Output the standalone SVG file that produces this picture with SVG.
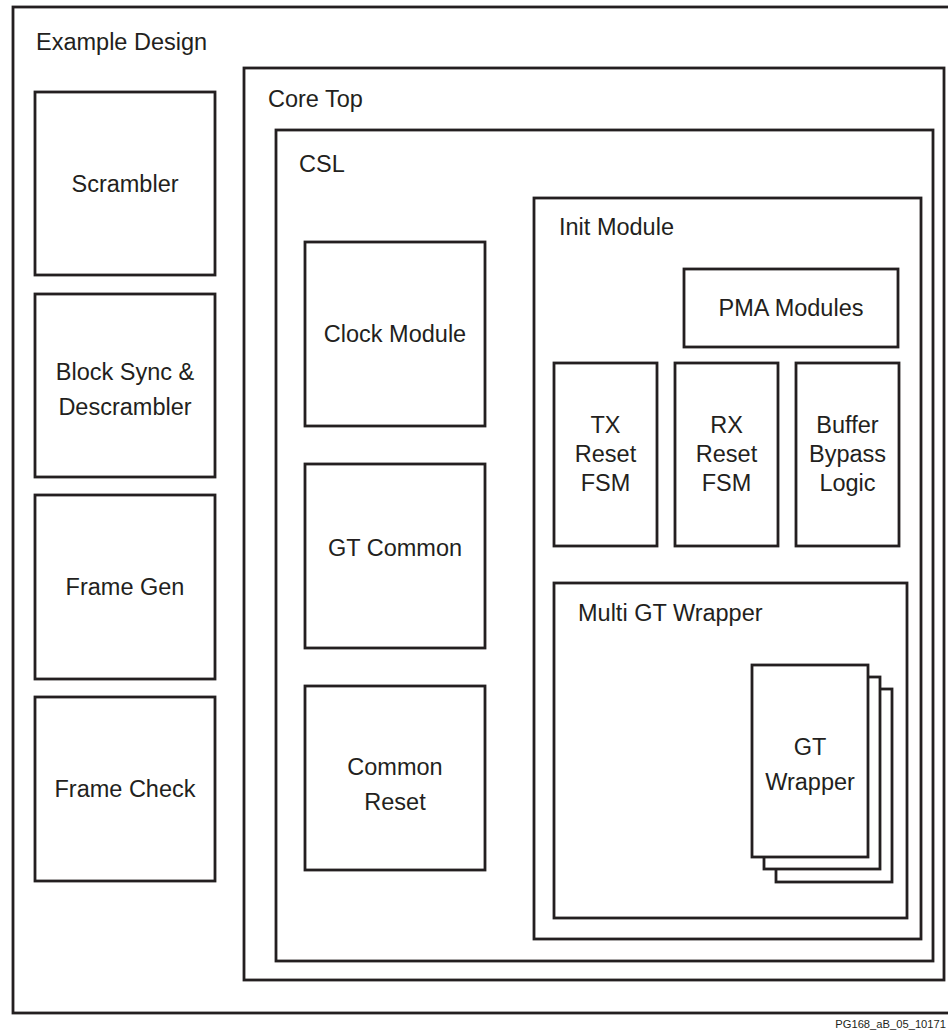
<svg xmlns="http://www.w3.org/2000/svg" width="948" height="1032" viewBox="0 0 948 1032">
<style>
rect{fill:#fff;stroke:#231f20;stroke-width:2.8}
text{font-family:"Liberation Sans",Arial,Helvetica,sans-serif;font-size:23.5px;fill:#231f20}
.c{text-anchor:middle}
.f{font-size:11.2px;text-anchor:end}
</style>
<rect x="0" y="0" width="948" height="1032" style="stroke:none"/>
<g id="example-design">
<rect x="13" y="7" width="945" height="1006"/>
<text x="36" y="50">Example Design</text>
</g>
<g id="scrambler"><rect x="35" y="92" width="180" height="183"/><text class="c" x="125" y="192">Scrambler</text></g>
<g id="block-sync"><rect x="35" y="294" width="180" height="183"/><text class="c" x="125" y="380">Block Sync &amp;</text><text class="c" x="125" y="415">Descrambler</text></g>
<g id="frame-gen"><rect x="35" y="495" width="180" height="184"/><text class="c" x="125" y="595">Frame Gen</text></g>
<g id="frame-check"><rect x="35" y="697" width="180" height="184"/><text class="c" x="125" y="797">Frame Check</text></g>
<g id="core-top"><rect x="244" y="68" width="700" height="912"/><text x="268" y="107">Core Top</text></g>
<g id="csl"><rect x="276" y="130" width="657" height="831"/><text x="299" y="172">CSL</text></g>
<g id="clock-module"><rect x="305" y="242" width="180" height="184"/><text class="c" x="395" y="342">Clock Module</text></g>
<g id="gt-common"><rect x="305" y="464" width="180" height="184"/><text class="c" x="395" y="556">GT Common</text></g>
<g id="common-reset"><rect x="305" y="686" width="180" height="184"/><text class="c" x="395" y="775">Common</text><text class="c" x="395" y="810">Reset</text></g>
<g id="init-module"><rect x="534" y="198" width="387" height="741"/><text x="559" y="235">Init Module</text></g>
<g id="pma-modules"><rect x="684" y="269" width="214" height="78"/><text class="c" x="791" y="316">PMA Modules</text></g>
<g id="tx-reset-fsm"><rect x="554" y="363" width="103" height="183"/><text class="c" x="605.5" y="433">TX</text><text class="c" x="605.5" y="462">Reset</text><text class="c" x="605.5" y="491">FSM</text></g>
<g id="rx-reset-fsm"><rect x="675" y="363" width="103" height="183"/><text class="c" x="726.5" y="433">RX</text><text class="c" x="726.5" y="462">Reset</text><text class="c" x="726.5" y="491">FSM</text></g>
<g id="buffer-bypass"><rect x="796" y="363" width="103" height="183"/><text class="c" x="847.5" y="433">Buffer</text><text class="c" x="847.5" y="462">Bypass</text><text class="c" x="847.5" y="491">Logic</text></g>
<g id="multi-gt-wrapper"><rect x="554" y="583" width="353" height="335"/><text x="578" y="621">Multi GT Wrapper</text></g>
<g id="gt-wrapper">
<rect x="776" y="689" width="116" height="193"/>
<rect x="764" y="677" width="116" height="192"/>
<rect x="752" y="665" width="116" height="192"/>
<text class="c" x="810" y="755">GT</text><text class="c" x="810" y="790">Wrapper</text>
</g>
<g id="connectors"></g>
<text class="f" x="946" y="1028">PG168_aB_05_10171</text>
</svg>
